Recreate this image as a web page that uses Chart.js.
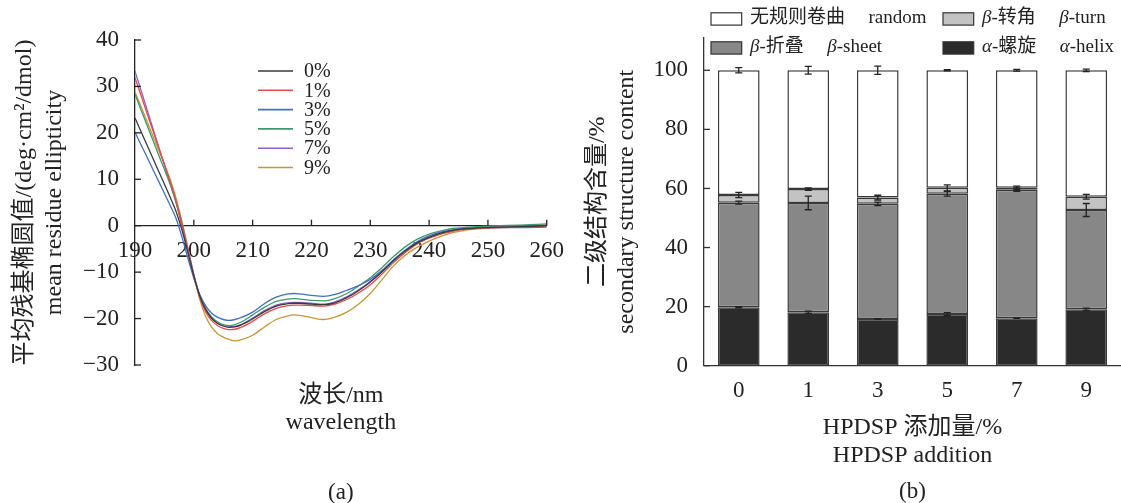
<!DOCTYPE html>
<html><head><meta charset="utf-8">
<script src="https://cdn.jsdelivr.net/npm/chart.js@4.4.1/dist/chart.umd.min.js"></script>
<style>
html,body{margin:0;padding:0;background:#fff;}
#wrap{position:relative;width:1121px;height:503px;overflow:hidden;background:#fff;}
#c1{position:absolute;left:0;top:0;}
#c2{position:absolute;left:580px;top:0;}
</style></head><body>
<div id="wrap"><canvas id="c1" width="575" height="503"></canvas><canvas id="c2" width="541" height="503"></canvas></div>
<script>
// ---------- (a) CD spectra ----------
const wavelengths = [190,192,194,196,197,198,199,200,201,202,203,204,205,206,207,208,210,212,214,216,217,218,220,222,224,226,228,230,232,234,236,238,240,242,244,246,248,250,252,255,260];
const cd0 = [23.2,17.5,11.8,6.1,3.0,-1.0,-5.8,-10.8,-15.1,-18.0,-19.9,-21.0,-21.6,-21.9,-21.8,-21.4,-20.1,-18.5,-17.3,-16.8,-16.7,-16.7,-16.9,-17.0,-16.6,-15.5,-14.0,-12.1,-9.9,-7.5,-5.4,-3.7,-2.5,-1.6,-1.0,-0.7,-0.5,-0.4,-0.3,-0.2,0.0];
const cd1 = [31.9,24.4,16.9,9.4,5.2,-0.2,-5.3,-10.8,-15.4,-18.5,-20.4,-21.5,-22.1,-22.4,-22.3,-21.9,-20.6,-19.0,-17.8,-17.2,-17.1,-17.1,-17.2,-17.3,-16.9,-15.9,-14.5,-12.7,-10.4,-7.9,-5.7,-3.9,-2.7,-1.8,-1.2,-0.8,-0.6,-0.5,-0.4,-0.3,-0.1];
const cd3 = [20.1,14.9,9.6,4.3,1.5,-2.5,-7.0,-11.3,-14.8,-17.2,-18.8,-19.7,-20.2,-20.4,-20.2,-19.8,-18.6,-16.8,-15.4,-14.7,-14.6,-14.7,-15.0,-15.2,-14.8,-13.9,-12.9,-11.6,-9.6,-7.3,-5.2,-3.4,-2.2,-1.4,-0.9,-0.6,-0.5,-0.4,-0.4,-0.4,-0.3];
const cd5 = [28.3,21.8,15.3,8.8,4.8,0.0,-5.6,-10.8,-15.0,-17.8,-19.6,-20.7,-21.3,-21.5,-21.3,-20.8,-19.2,-17.6,-16.3,-15.8,-15.7,-15.8,-16.1,-16.2,-15.7,-14.6,-13.0,-11.2,-9.0,-6.6,-4.5,-2.9,-1.8,-1.1,-0.6,-0.4,-0.2,-0.1,0.0,0.1,0.4];
const cd7 = [33.3,25.2,17.1,9.1,5.0,0.4,-5.0,-10.5,-15.0,-18.0,-19.9,-21.0,-21.6,-21.8,-21.7,-21.3,-19.9,-18.3,-17.1,-16.6,-16.5,-16.5,-16.7,-16.9,-16.4,-15.3,-13.8,-12.0,-9.8,-7.4,-5.3,-3.6,-2.4,-1.5,-1.0,-0.6,-0.4,-0.3,-0.2,-0.1,0.2];
const cd9 = [28.8,22.6,16.3,9.9,5.8,0.8,-4.8,-10.6,-15.8,-19.5,-21.8,-23.2,-24.0,-24.5,-24.8,-24.6,-23.6,-21.8,-20.2,-19.4,-19.2,-19.3,-19.8,-20.2,-19.7,-18.6,-16.9,-14.6,-11.6,-8.6,-6.3,-4.6,-3.3,-2.3,-1.5,-1.0,-0.7,-0.5,-0.4,-0.3,-0.1];
const lineLabels = ['0%','1%','3%','5%','7%','9%'];
const lineColors = ['#3a3a3a','#e8494b','#3f6fc6','#3c9a6c','#8a62c8','#c99732'];
const xTicksA = [190,200,210,220,230,240,250,260];
const yTicksA = [-30,-20,-10,0,10,20,30,40];

// ---------- (b) secondary structure ----------
const additions = ['0','1','3','5','7','9'];
const helix  = [19.8,18.1,15.8,17.5,16.1,19.1];
const sheet  = [35.4,37.0,39.0,40.7,43.5,33.6];
const turn   = [2.6,4.7,2.1,2.0,0.6,4.5];
const random = [42.2,40.2,43.1,39.8,39.8,42.8];
const errHelix  = [0.2,0.4,0.1,0.5,0.1,0.4];
const errSheet  = [0.5,2.3,0.6,0.8,0.6,2.2];
const errTurn   = [0.9,0.4,0.8,1.0,0.6,0.8];
const errRandom = [0.9,1.3,1.4,0.2,0.3,0.4];
const seriesCn = ['α-螺旋','β-折叠','β-转角','无规则卷曲'];
const seriesEn = ['α-helix','β-sheet','β-turn','random'];
const yTicksB = [0,20,40,60,80,100];

const FAM = '"Liberation Serif","Noto Sans CJK SC",serif';
Chart.defaults.font.family = FAM;
Chart.defaults.color = '#222';
const minus = v => String(v).replace('-', '\u2212');

function drawMixed(ctx, text, x, y, size) {
  let cx = x;
  text.split(/([αβ])/).forEach(seg => {
    if (!seg) return;
    ctx.font = (/[αβ]/.test(seg) ? 'italic ' : '') + size + 'px ' + FAM;
    ctx.fillText(seg, cx, y);
    cx += ctx.measureText(seg).width;
  });
  return cx;
}

const decorA = {
  id: 'decorA',
  afterDraw(chart) {
    const {ctx, chartArea: ca, scales} = chart;
    const y = scales.y, x2 = scales.x2;
    ctx.save();
    ctx.strokeStyle = '#222'; ctx.lineWidth = 1.3;
    const y0 = y.getPixelForValue(0);
    yTicksA.forEach(v => { const p = y.getPixelForValue(v); ctx.beginPath(); ctx.moveTo(ca.left, p); ctx.lineTo(ca.left + 6, p); ctx.stroke(); });
    xTicksA.forEach(v => { if (v === 190) return; const p = x2.getPixelForValue(v); ctx.beginPath(); ctx.moveTo(p, y0); ctx.lineTo(p, y0 - 6); ctx.stroke(); });
    ctx.textBaseline = 'middle'; ctx.textAlign = 'left'; ctx.fillStyle = '#222';
    ctx.font = '20px ' + FAM;
    chart.data.datasets.forEach((ds, i) => {
      const ly = 71 + i * 19.3;
      ctx.strokeStyle = ds.borderColor; ctx.lineWidth = 1.6;
      ctx.beginPath(); ctx.moveTo(258, ly); ctx.lineTo(293, ly); ctx.stroke();
      ctx.fillText(ds.label, 304, ly + 1);
    });
    ctx.font = '23px ' + FAM; ctx.textAlign = 'center';
    ctx.fillText('(a)', (ca.left + ca.right) / 2, 493);
    ctx.restore();
  }
};

new Chart(document.getElementById('c1'), {
  type: 'line',
  data: {
    datasets: [cd0, cd1, cd3, cd5, cd7, cd9].map((arr, i) => ({
      label: lineLabels[i],
      data: wavelengths.map((w, k) => ({x: w, y: arr[k]})),
      borderColor: lineColors[i],
      borderWidth: 1.3,
      pointRadius: 0,
      fill: false,
      cubicInterpolationMode: 'monotone'
    }))
  },
  options: {
    responsive: false, animation: false,
    layout: {padding: {left: 0, top: 40, right: 24, bottom: 0}},
    plugins: {legend: {display: false}, tooltip: {enabled: false}},
    scales: {
      x: {
        type: 'linear', position: 'bottom', min: 190, max: 260,
        grid: {display: false, drawTicks: false}, border: {display: false},
        ticks: {display: false},
        title: {display: true, text: ['波长/nm', 'wavelength'], font: {size: 24, lineHeight: '27px'}, color: '#222', padding: {top: 0, bottom: 66.5}},
        afterFit: s => { s.height = 138; }
      },
      x2: {
        type: 'linear', axis: 'x', position: {y: 0}, min: 190, max: 260,
        afterBuildTicks: s => { s.ticks = xTicksA.map(v => ({value: v})); },
        grid: {display: false, drawTicks: false}, border: {display: true, color: '#222', width: 1.3},
        ticks: {font: {size: 23}, padding: 11, color: '#222', maxRotation: 0, autoSkip: false}
      },
      y: {
        type: 'linear', position: 'left', min: -30, max: 40,
        afterBuildTicks: s => { s.ticks = yTicksA.map(v => ({value: v})); },
        grid: {display: false, drawTicks: false}, border: {display: true, color: '#222', width: 1.3},
        ticks: {font: {size: 23}, padding: 16, color: '#222', callback: v => minus(v)},
        title: {display: true, text: ['平均残基椭圆值/(deg·cm²/dmol)', 'mean residue ellipticity'], font: {size: 24, lineHeight: '30px'}, color: '#222', padding: {top: 10, bottom: 0}},
        afterFit: s => { s.width = 135; }
      }
    }
  },
  plugins: [decorA]
});

const decorB = {
  id: 'decorB',
  afterDatasetsDraw(chart) {
    const {ctx, scales: {y}} = chart;
    ctx.save();
    ctx.strokeStyle = '#222'; ctx.lineWidth = 1.3;
    chart.data.datasets.forEach((ds, i) => {
      const meta = chart.getDatasetMeta(i);
      meta.data.forEach((bar, j) => {
        let top = 0;
        for (let k = 0; k <= i; k++) top += chart.data.datasets[k].data[j];
        const e = ds.errors[j];
        const y1 = y.getPixelForValue(top - e), y2 = y.getPixelForValue(top + e);
        const bx = bar.x;
        ctx.beginPath();
        ctx.moveTo(bx, y1); ctx.lineTo(bx, y2);
        ctx.moveTo(bx - 3.5, y1); ctx.lineTo(bx + 3.5, y1);
        ctx.moveTo(bx - 3.5, y2); ctx.lineTo(bx + 3.5, y2);
        ctx.stroke();
      });
    });
    ctx.restore();
  },
  afterDraw(chart) {
    const {ctx, chartArea: ca, scales: {y}} = chart;
    ctx.save();
    ctx.strokeStyle = '#333'; ctx.lineWidth = 1.3;
    yTicksB.forEach(v => { const p = y.getPixelForValue(v); ctx.beginPath(); ctx.moveTo(ca.left, p); ctx.lineTo(ca.left + 6, p); ctx.stroke(); });
    // legend (canvas x = page x - 580)
    const slots = [[131, 19], [363, 19], [131, 48], [363, 48]];
    const order = [3, 2, 1, 0];
    ctx.textBaseline = 'middle'; ctx.textAlign = 'left'; ctx.fillStyle = '#222';
    order.forEach((di, n) => {
      const ds = chart.data.datasets[di];
      const [bx, by] = slots[n];
      ctx.fillStyle = ds.backgroundColor;
      ctx.fillRect(bx, by - 6.2, 30.7, 12.3);
      ctx.strokeStyle = '#333'; ctx.lineWidth = 1.2;
      ctx.strokeRect(bx, by - 6.2, 30.7, 12.3);
      ctx.fillStyle = '#222';
      const end = drawMixed(ctx, seriesCn[di], bx + 39, by - 1, 19);
      drawMixed(ctx, seriesEn[di], end + 23.5, by - 1, 19);
    });
    ctx.font = '23px ' + FAM; ctx.textAlign = 'center'; ctx.fillStyle = '#222';
    ctx.fillText('(b)', (ca.left + ca.right) / 2, 492);
    ctx.restore();
  }
};

const barColors = ['#2b2b2b', '#878787', '#c3c3c3', '#ffffff'];
const barErrs = [errHelix, errSheet, errTurn, errRandom];
new Chart(document.getElementById('c2'), {
  type: 'bar',
  data: {
    labels: additions,
    datasets: [helix, sheet, turn, random].map((arr, i) => ({
      label: seriesCn[i] + ' ' + seriesEn[i],
      data: arr,
      errors: barErrs[i],
      backgroundColor: barColors[i],
      borderColor: '#3a3a3a',
      borderWidth: 1.5,
      borderSkipped: false,
      barPercentage: 0.6,
      categoryPercentage: 1.0
    }))
  },
  options: {
    responsive: false, animation: false,
    layout: {padding: {left: 0, top: 37.8, right: 0, bottom: 0}},
    plugins: {legend: {display: false}, tooltip: {enabled: false}},
    scales: {
      x: {
        stacked: true,
        grid: {display: false, drawTicks: false}, border: {display: true, color: '#333', width: 1.3},
        ticks: {font: {size: 23}, padding: 11, color: '#222'},
        title: {display: true, text: ['HPDSP 添加量/%', 'HPDSP addition'], font: {size: 24, lineHeight: '28px'}, color: '#222', padding: {top: 0, bottom: 33.3}},
        afterFit: s => { s.height = 137.3; }
      },
      y: {
        stacked: true, min: 0, max: 111,
        afterBuildTicks: s => { s.ticks = yTicksB.map(v => ({value: v})); },
        grid: {display: false, drawTicks: false}, border: {display: true, color: '#333', width: 1.3},
        ticks: {font: {size: 23}, padding: 16, color: '#222'},
        title: {display: true, text: ['二级结构含量/%', 'secondary structure content'], font: {size: 24, lineHeight: '29px'}, color: '#222', padding: {top: 3.5, bottom: 0}},
        afterFit: s => { s.width = 124; }
      }
    }
  },
  plugins: [decorB]
});
</script>
</body></html>
